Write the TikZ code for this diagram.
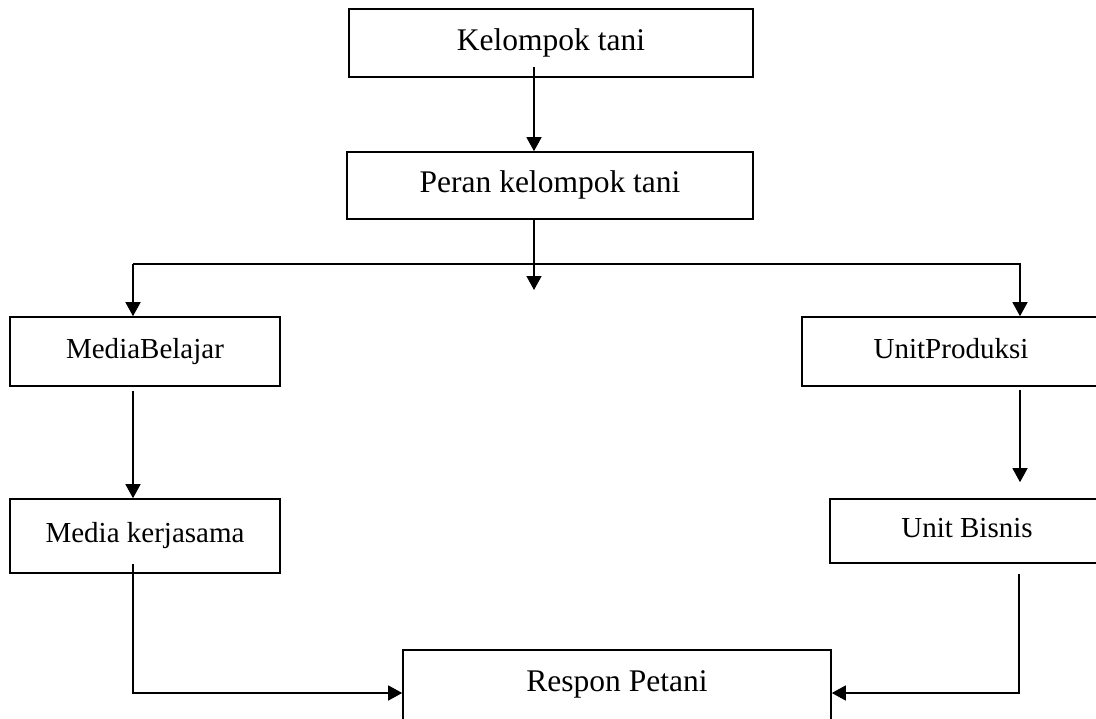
\documentclass[tikz,border=0pt]{standalone}
\usepackage{fontspec}
\setmainfont{Liberation Serif}
\usetikzlibrary{arrows.meta}
\begin{document}
\begin{tikzpicture}[x=1bp,y=-1bp,
  box/.style={draw, line width=1.6bp, inner sep=0pt, text height=20bp, text depth=7bp,
    font=\fontsize{29bp}{34bp}\selectfont},
  bigbox/.style={box, text height=22bp, text depth=7.5bp, font=\fontsize{31.5bp}{37bp}\selectfont},
  arr/.style={line width=1.3bp, -{Triangle[length=14bp,width=15bp]}},
  ln/.style={line width=1.3bp}]
\fill[white] (0,0) rectangle (1096,719);
\useasboundingbox (0,0) rectangle (1096,719);
\node[bigbox, minimum width=404bp, minimum height=68bp] (kt) at (551,43) {Kelompok tani};
\node[bigbox, minimum width=406bp, minimum height=67bp] (peran) at (550,185.5) {Peran kelompok tani};
\node[box, minimum width=270bp, minimum height=69bp] (mb) at (145,351.5) {MediaBelajar};
\node[box, minimum width=298bp, minimum height=69bp] (up) at (951,351.5) {UnitProduksi};
\node[box, minimum width=270bp, minimum height=74bp] (mk) at (145,536) {Media kerjasama};
\node[box, minimum width=274bp, minimum height=64bp] (ub) at (967,531) {Unit Bisnis};
\node[bigbox, minimum width=428bp, text height=42bp, text depth=70bp, anchor=north] (rp) at (617,649) {Respon Petani};
\coordinate (kts) at (534,67);
\coordinate (pc) at (534,290);
\coordinate (busL) at (133,264);
\coordinate (busR) at (1020,264);
\coordinate (joinL) at (133,693);
\coordinate (joinR) at (1019,693);
\draw[arr] (kts) -- (kts |- peran.north);
\draw[arr] (peran.south -| pc) -- (pc);
\draw[arr] (busL) -- (busR) -- (busR |- up.north);
\draw[arr] (busL) -- (busL |- mb.north);
\draw[arr] ([yshift=-4bp]mb.south -| busL) -- (busL |- mk.north);
\draw[arr] ([yshift=-3bp]up.south -| busR) -- ([yshift=16bp]ub.north -| busR);
\draw[arr] ([yshift=10bp]mk.south -| joinL) -- (joinL) -- (joinL -| rp.west);
\draw[arr] ([yshift=-10bp]ub.south -| joinR) -- (joinR) -- (joinR -| rp.east);
\end{tikzpicture}
\end{document}
